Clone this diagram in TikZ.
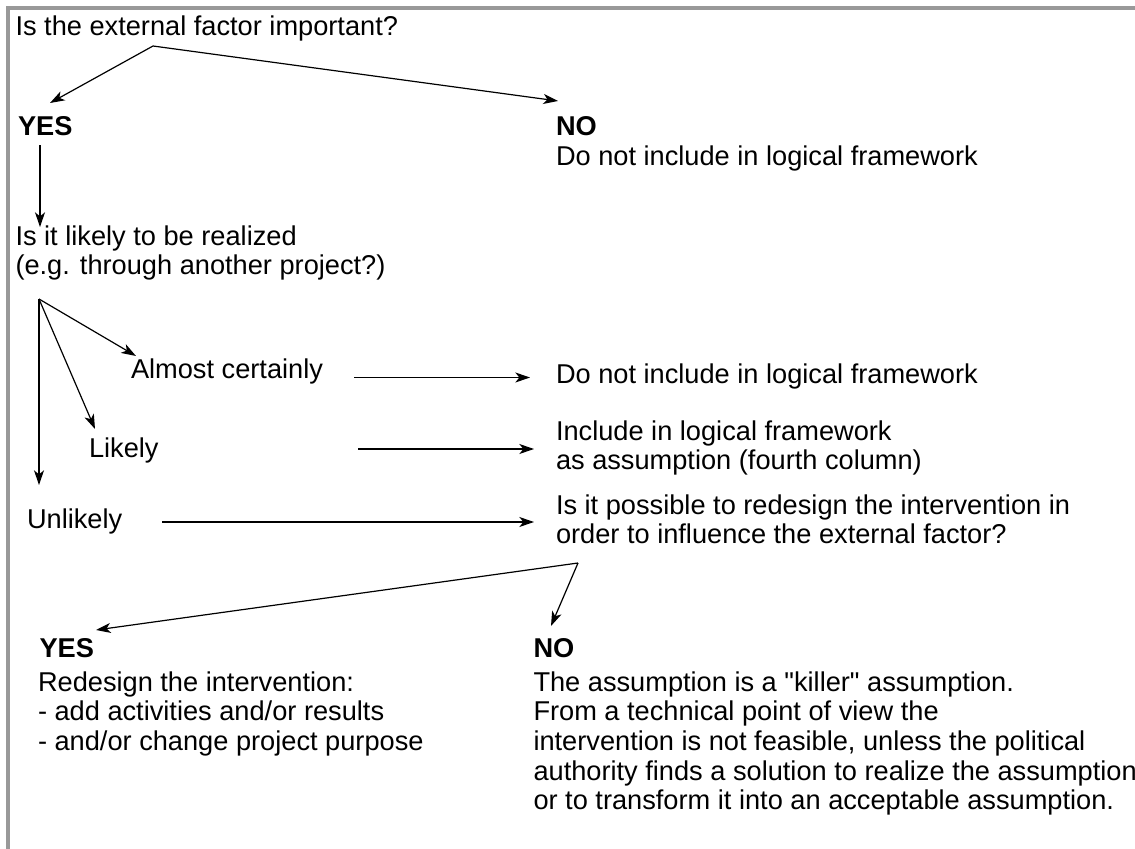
\documentclass[tikz,border=0pt]{standalone}
\usepackage{fontspec}
\setmainfont{Liberation Sans}[Ligatures=TeXOff]
\usetikzlibrary{arrows.meta}
\begin{document}
\begin{tikzpicture}[x=0.75pt,y=-0.75pt,
  lbl/.style={anchor=north west,inner sep=0pt,outer sep=0pt,align=left,
    font=\fontsize{20.4}{22.3}\selectfont},
  head/.style={lbl,font=\fontsize{20.4}{22.3}\selectfont\bfseries},
  arr/.style={line width=0.9pt,-{Stealth[length=11pt,width=7.5pt,inset=3pt]}},
  borderline/.style={line width=2.6pt,draw=black!40}]
\useasboundingbox (0,0) rectangle (1135,849);
\draw[borderline] (8,849) -- (8,8) -- (1135,8);

% texts
\node[lbl] (q1) at (15.5,14.2) {\strut Is the external factor important?};
\node[head] (yes1) at (18,114.2) {\strut YES};
\node[head] (no1) at (556,114.2) {\strut NO};
\node[lbl] (no1t) at (556,144.9) {\strut Do not include in logical framework};
\node[lbl] (q2) at (15.5,224.2) {\strut Is it likely to be realized\\(e.g. through another project?)};
\node[lbl] (almost) at (131,357.2) {\strut Almost certainly};
\node[lbl] (likely) at (89,436.2) {\strut Likely};
\node[lbl] (unlikely) at (27,507.2) {\strut Unlikely};
\node[lbl] (dni2) at (556,362.2) {\strut Do not include in logical framework};
\node[lbl] (incl) at (556,419.2) {\strut Include in logical framework\\as assumption (fourth column)};
\node[lbl] (q3) at (556,493.2) {\strut Is it possible to redesign the intervention in\\order to influence the external factor?};
\node[head] (yes2) at (39.5,636.2) {\strut YES};
\node[lbl] (yes2t) at (38,670.2) {\strut Redesign the intervention:\\- add activities and/or results\\- and/or change project purpose};
\node[head] (no2) at (533.5,636.2) {\strut NO};
\node[lbl] (no2t) at (533.5,670.2) {\strut The assumption is a "killer" assumption.\\From a technical point of view the\\intervention is not feasible, unless the political\\authority finds a solution to realize the assumption\\or to transform it into an acceptable assumption.};

% connector points
\coordinate (f1) at (153,46);
\coordinate (f1y) at (50,103);
\coordinate (f1n) at (558,101);
\coordinate (v1s) at (40,145);
\coordinate (v1e) at (40,227);
\coordinate (f2) at (39,299);
\coordinate (f2a) at (136,356);
\coordinate (f2l) at (95,429);
\coordinate (f2u) at (39,485);
\coordinate (h1s) at (354,377.5);
\coordinate (h1e) at (530,377.5);
\coordinate (h2s) at (358,449);
\coordinate (h2e) at (534,449);
\coordinate (h3s) at (162,522);
\coordinate (h3e) at (534,522);
\coordinate (f3) at (578,563);
\coordinate (f3y) at (96,630);
\coordinate (f3n) at (551,626);

% connectors
\draw[arr] (f1) -- (f1y);
\draw[arr] (f1) -- (f1n);
\draw[arr] (v1s) -- (v1e);
\draw[arr] (f2) -- (f2a);
\draw[arr] (f2) -- (f2l);
\draw[arr] (f2) -- (f2u);
\draw[arr] (h1s) -- (h1e);
\draw[arr] (h2s) -- (h2e);
\draw[arr] (h3s) -- (h3e);
\draw[arr] (f3) -- (f3y);
\draw[arr] (f3) -- (f3n);
\end{tikzpicture}
\end{document}
